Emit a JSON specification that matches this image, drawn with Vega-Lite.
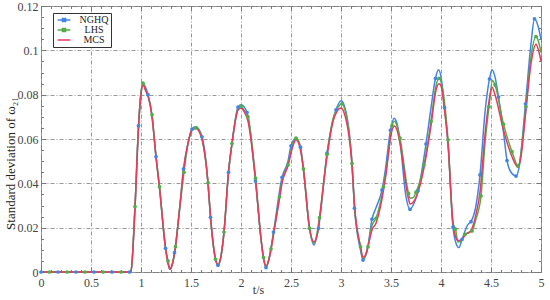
{
  "$schema": "https://vega.github.io/schema/vega-lite/v6.json",
  "width": 500,
  "height": 266,
  "autosize": "none",
  "padding": {"left": 41, "top": 6, "right": 9, "bottom": 28},
  "background": "white",
  "config": {
    "view": {"stroke": "#777", "strokeWidth": 1},
    "font": "Liberation Serif, Times New Roman, serif"
  },
  "datasets": {
    "d": [
      {"s":"NGHQ","t":0,"v":0,"m":1},{"s":"NGHQ","t":0.17,"v":0,"m":1},{"s":"NGHQ","t":0.35,"v":0,"m":1},{"s":"NGHQ","t":0.53,"v":0,"m":1},{"s":"NGHQ","t":0.71,"v":0,"m":1},{"s":"NGHQ","t":0.885,"v":0,"m":1},
      {"s":"NGHQ","t":0.9,"v":0.0005,"m":0},{"s":"NGHQ","t":0.94,"v":0.029,"m":0},{"s":"NGHQ","t":0.975,"v":0.066,"m":1},{"s":"NGHQ","t":1.0,"v":0.081,"m":0},{"s":"NGHQ","t":1.02,"v":0.0848,"m":0},{"s":"NGHQ","t":1.07,"v":0.080,"m":1},{"s":"NGHQ","t":1.11,"v":0.0705,"m":0},{"s":"NGHQ","t":1.15,"v":0.052,"m":1},{"s":"NGHQ","t":1.185,"v":0.038,"m":0},{"s":"NGHQ","t":1.245,"v":0.0107,"m":1},{"s":"NGHQ","t":1.27,"v":0.004,"m":0},{"s":"NGHQ","t":1.29,"v":0.0012,"m":0},{"s":"NGHQ","t":1.31,"v":0.003,"m":0},{"s":"NGHQ","t":1.335,"v":0.0087,"m":1},{"s":"NGHQ","t":1.385,"v":0.028,"m":0},{"s":"NGHQ","t":1.425,"v":0.0465,"m":1},{"s":"NGHQ","t":1.47,"v":0.058,"m":0},{"s":"NGHQ","t":1.51,"v":0.0645,"m":1},{"s":"NGHQ","t":1.55,"v":0.0655,"m":0},{"s":"NGHQ","t":1.61,"v":0.061,"m":1},{"s":"NGHQ","t":1.67,"v":0.040,"m":0},{"s":"NGHQ","t":1.695,"v":0.0247,"m":1},{"s":"NGHQ","t":1.745,"v":0.0057,"m":0},{"s":"NGHQ","t":1.77,"v":0.003,"m":1},{"s":"NGHQ","t":1.795,"v":0.006,"m":0},{"s":"NGHQ","t":1.83,"v":0.018,"m":0},{"s":"NGHQ","t":1.875,"v":0.045,"m":1},{"s":"NGHQ","t":1.91,"v":0.058,"m":0},{"s":"NGHQ","t":1.97,"v":0.0744,"m":1},{"s":"NGHQ","t":2.0,"v":0.0755,"m":0},{"s":"NGHQ","t":2.06,"v":0.072,"m":1},{"s":"NGHQ","t":2.145,"v":0.041,"m":1},{"s":"NGHQ","t":2.2,"v":0.015,"m":0},{"s":"NGHQ","t":2.225,"v":0.006,"m":0},{"s":"NGHQ","t":2.25,"v":0.002,"m":1},{"s":"NGHQ","t":2.275,"v":0.005,"m":0},{"s":"NGHQ","t":2.325,"v":0.018,"m":1},{"s":"NGHQ","t":2.41,"v":0.0427,"m":1},{"s":"NGHQ","t":2.47,"v":0.050,"m":0},{"s":"NGHQ","t":2.5,"v":0.0569,"m":1},{"s":"NGHQ","t":2.55,"v":0.0605,"m":0},{"s":"NGHQ","t":2.595,"v":0.0563,"m":1},{"s":"NGHQ","t":2.625,"v":0.046,"m":0},{"s":"NGHQ","t":2.685,"v":0.0197,"m":1},{"s":"NGHQ","t":2.73,"v":0.0122,"m":0},{"s":"NGHQ","t":2.775,"v":0.0197,"m":1},{"s":"NGHQ","t":2.86,"v":0.0536,"m":1},{"s":"NGHQ","t":2.95,"v":0.0731,"m":1},{"s":"NGHQ","t":3.0,"v":0.0773,"m":0},{"s":"NGHQ","t":3.03,"v":0.0755,"m":0},{"s":"NGHQ","t":3.11,"v":0.049,"m":0},{"s":"NGHQ","t":3.135,"v":0.0288,"m":1},{"s":"NGHQ","t":3.195,"v":0.010,"m":0},{"s":"NGHQ","t":3.22,"v":0.0054,"m":1},{"s":"NGHQ","t":3.25,"v":0.008,"m":0},{"s":"NGHQ","t":3.27,"v":0.012,"m":0},{"s":"NGHQ","t":3.31,"v":0.0238,"m":1},{"s":"NGHQ","t":3.35,"v":0.029,"m":0},{"s":"NGHQ","t":3.41,"v":0.037,"m":1},{"s":"NGHQ","t":3.44,"v":0.045,"m":0},{"s":"NGHQ","t":3.495,"v":0.064,"m":1},{"s":"NGHQ","t":3.53,"v":0.0694,"m":0},{"s":"NGHQ","t":3.56,"v":0.067,"m":0},{"s":"NGHQ","t":3.59,"v":0.059,"m":0},{"s":"NGHQ","t":3.65,"v":0.034,"m":0},{"s":"NGHQ","t":3.69,"v":0.0283,"m":1},{"s":"NGHQ","t":3.72,"v":0.030,"m":0},{"s":"NGHQ","t":3.77,"v":0.0366,"m":1},{"s":"NGHQ","t":3.85,"v":0.0578,"m":1},{"s":"NGHQ","t":3.9,"v":0.074,"m":0},{"s":"NGHQ","t":3.945,"v":0.0874,"m":1},{"s":"NGHQ","t":3.975,"v":0.0912,"m":0},{"s":"NGHQ","t":4.0,"v":0.088,"m":0},{"s":"NGHQ","t":4.035,"v":0.0742,"m":1},{"s":"NGHQ","t":4.07,"v":0.058,"m":0},{"s":"NGHQ","t":4.12,"v":0.0202,"m":1},{"s":"NGHQ","t":4.15,"v":0.013,"m":0},{"s":"NGHQ","t":4.18,"v":0.011,"m":0},{"s":"NGHQ","t":4.21,"v":0.0147,"m":1},{"s":"NGHQ","t":4.27,"v":0.0215,"m":0},{"s":"NGHQ","t":4.30,"v":0.0227,"m":1},{"s":"NGHQ","t":4.35,"v":0.030,"m":0},{"s":"NGHQ","t":4.39,"v":0.0438,"m":1},{"s":"NGHQ","t":4.44,"v":0.072,"m":0},{"s":"NGHQ","t":4.485,"v":0.0871,"m":1},{"s":"NGHQ","t":4.51,"v":0.0912,"m":0},{"s":"NGHQ","t":4.54,"v":0.088,"m":0},{"s":"NGHQ","t":4.575,"v":0.0789,"m":1},{"s":"NGHQ","t":4.625,"v":0.063,"m":0},{"s":"NGHQ","t":4.66,"v":0.0503,"m":1},{"s":"NGHQ","t":4.70,"v":0.045,"m":0},{"s":"NGHQ","t":4.75,"v":0.0433,"m":1},{"s":"NGHQ","t":4.78,"v":0.047,"m":0},{"s":"NGHQ","t":4.845,"v":0.0759,"m":1},{"s":"NGHQ","t":4.9,"v":0.103,"m":0},{"s":"NGHQ","t":4.935,"v":0.1142,"m":1},{"s":"NGHQ","t":4.97,"v":0.111,"m":0},{"s":"NGHQ","t":5.0,"v":0.105,"m":0},

      {"s":"LHS","t":0,"v":0,"m":0},{"s":"LHS","t":0.085,"v":0,"m":1},{"s":"LHS","t":0.26,"v":0,"m":1},{"s":"LHS","t":0.44,"v":0,"m":1},{"s":"LHS","t":0.62,"v":0,"m":1},{"s":"LHS","t":0.8,"v":0,"m":1},{"s":"LHS","t":0.885,"v":0,"m":0},
      {"s":"LHS","t":0.9,"v":0.0005,"m":0},{"s":"LHS","t":0.94,"v":0.0295,"m":1},{"s":"LHS","t":0.975,"v":0.065,"m":0},{"s":"LHS","t":1.0,"v":0.081,"m":0},{"s":"LHS","t":1.02,"v":0.0852,"m":1},{"s":"LHS","t":1.045,"v":0.082,"m":0},{"s":"LHS","t":1.07,"v":0.0795,"m":0},{"s":"LHS","t":1.11,"v":0.0709,"m":1},{"s":"LHS","t":1.15,"v":0.052,"m":0},{"s":"LHS","t":1.185,"v":0.0385,"m":1},{"s":"LHS","t":1.245,"v":0.011,"m":0},{"s":"LHS","t":1.27,"v":0.005,"m":1},{"s":"LHS","t":1.29,"v":0.0013,"m":0},{"s":"LHS","t":1.31,"v":0.003,"m":0},{"s":"LHS","t":1.345,"v":0.0114,"m":1},{"s":"LHS","t":1.385,"v":0.028,"m":0},{"s":"LHS","t":1.43,"v":0.045,"m":1},{"s":"LHS","t":1.47,"v":0.058,"m":0},{"s":"LHS","t":1.51,"v":0.064,"m":0},{"s":"LHS","t":1.55,"v":0.065,"m":1},{"s":"LHS","t":1.59,"v":0.063,"m":0},{"s":"LHS","t":1.61,"v":0.060,"m":0},{"s":"LHS","t":1.67,"v":0.0403,"m":1},{"s":"LHS","t":1.695,"v":0.025,"m":0},{"s":"LHS","t":1.745,"v":0.0057,"m":1},{"s":"LHS","t":1.77,"v":0.003,"m":0},{"s":"LHS","t":1.795,"v":0.006,"m":0},{"s":"LHS","t":1.83,"v":0.018,"m":1},{"s":"LHS","t":1.875,"v":0.045,"m":0},{"s":"LHS","t":1.91,"v":0.058,"m":1},{"s":"LHS","t":1.97,"v":0.0735,"m":0},{"s":"LHS","t":2.0,"v":0.0748,"m":1},{"s":"LHS","t":2.03,"v":0.073,"m":0},{"s":"LHS","t":2.07,"v":0.070,"m":1},{"s":"LHS","t":2.145,"v":0.0423,"m":1},{"s":"LHS","t":2.2,"v":0.015,"m":0},{"s":"LHS","t":2.225,"v":0.0065,"m":1},{"s":"LHS","t":2.25,"v":0.0025,"m":0},{"s":"LHS","t":2.275,"v":0.005,"m":0},{"s":"LHS","t":2.30,"v":0.0104,"m":1},{"s":"LHS","t":2.325,"v":0.017,"m":0},{"s":"LHS","t":2.385,"v":0.034,"m":1},{"s":"LHS","t":2.41,"v":0.041,"m":0},{"s":"LHS","t":2.47,"v":0.0483,"m":1},{"s":"LHS","t":2.52,"v":0.058,"m":0},{"s":"LHS","t":2.55,"v":0.0604,"m":1},{"s":"LHS","t":2.595,"v":0.056,"m":0},{"s":"LHS","t":2.625,"v":0.0465,"m":1},{"s":"LHS","t":2.685,"v":0.0197,"m":1},{"s":"LHS","t":2.73,"v":0.013,"m":0},{"s":"LHS","t":2.785,"v":0.0245,"m":1},{"s":"LHS","t":2.86,"v":0.053,"m":1},{"s":"LHS","t":2.92,"v":0.069,"m":0},{"s":"LHS","t":2.96,"v":0.0735,"m":0},{"s":"LHS","t":3.01,"v":0.0759,"m":1},{"s":"LHS","t":3.04,"v":0.073,"m":0},{"s":"LHS","t":3.11,"v":0.049,"m":1},{"s":"LHS","t":3.135,"v":0.030,"m":0},{"s":"LHS","t":3.195,"v":0.0114,"m":1},{"s":"LHS","t":3.22,"v":0.006,"m":0},{"s":"LHS","t":3.25,"v":0.008,"m":0},{"s":"LHS","t":3.27,"v":0.0114,"m":1},{"s":"LHS","t":3.31,"v":0.021,"m":0},{"s":"LHS","t":3.35,"v":0.0242,"m":1},{"s":"LHS","t":3.425,"v":0.0385,"m":1},{"s":"LHS","t":3.47,"v":0.052,"m":0},{"s":"LHS","t":3.51,"v":0.066,"m":1},{"s":"LHS","t":3.535,"v":0.068,"m":0},{"s":"LHS","t":3.56,"v":0.066,"m":0},{"s":"LHS","t":3.59,"v":0.0604,"m":1},{"s":"LHS","t":3.675,"v":0.0355,"m":1},{"s":"LHS","t":3.69,"v":0.0333,"m":0},{"s":"LHS","t":3.72,"v":0.0335,"m":0},{"s":"LHS","t":3.75,"v":0.036,"m":1},{"s":"LHS","t":3.83,"v":0.0483,"m":1},{"s":"LHS","t":3.9,"v":0.0679,"m":1},{"s":"LHS","t":3.95,"v":0.084,"m":0},{"s":"LHS","t":3.98,"v":0.0874,"m":1},{"s":"LHS","t":4.01,"v":0.084,"m":0},{"s":"LHS","t":4.07,"v":0.0596,"m":1},{"s":"LHS","t":4.12,"v":0.022,"m":0},{"s":"LHS","t":4.145,"v":0.0194,"m":1},{"s":"LHS","t":4.17,"v":0.0135,"m":0},{"s":"LHS","t":4.2,"v":0.014,"m":0},{"s":"LHS","t":4.24,"v":0.017,"m":1},{"s":"LHS","t":4.31,"v":0.0185,"m":1},{"s":"LHS","t":4.35,"v":0.024,"m":0},{"s":"LHS","t":4.40,"v":0.0343,"m":1},{"s":"LHS","t":4.44,"v":0.058,"m":0},{"s":"LHS","t":4.48,"v":0.0746,"m":1},{"s":"LHS","t":4.515,"v":0.0864,"m":0},{"s":"LHS","t":4.54,"v":0.0844,"m":1},{"s":"LHS","t":4.625,"v":0.0667,"m":1},{"s":"LHS","t":4.71,"v":0.0543,"m":1},{"s":"LHS","t":4.77,"v":0.0479,"m":1},{"s":"LHS","t":4.85,"v":0.0745,"m":1},{"s":"LHS","t":4.9,"v":0.097,"m":0},{"s":"LHS","t":4.95,"v":0.1062,"m":1},{"s":"LHS","t":4.975,"v":0.104,"m":0},{"s":"LHS","t":5.0,"v":0.099,"m":0},

      {"s":"MCS","t":0,"v":0,"m":0},{"s":"MCS","t":0.5,"v":0,"m":0},{"s":"MCS","t":0.88,"v":0,"m":0},{"s":"MCS","t":0.9,"v":0.0005,"m":0},{"s":"MCS","t":0.94,"v":0.029,"m":0},{"s":"MCS","t":0.975,"v":0.065,"m":0},{"s":"MCS","t":1.0,"v":0.080,"m":0},{"s":"MCS","t":1.02,"v":0.0845,"m":0},{"s":"MCS","t":1.045,"v":0.082,"m":0},{"s":"MCS","t":1.07,"v":0.0795,"m":0},{"s":"MCS","t":1.11,"v":0.070,"m":0},{"s":"MCS","t":1.15,"v":0.052,"m":0},{"s":"MCS","t":1.185,"v":0.038,"m":0},{"s":"MCS","t":1.245,"v":0.011,"m":0},{"s":"MCS","t":1.27,"v":0.004,"m":0},{"s":"MCS","t":1.29,"v":0.0012,"m":0},{"s":"MCS","t":1.31,"v":0.003,"m":0},{"s":"MCS","t":1.345,"v":0.0115,"m":0},{"s":"MCS","t":1.385,"v":0.028,"m":0},{"s":"MCS","t":1.425,"v":0.046,"m":0},{"s":"MCS","t":1.47,"v":0.058,"m":0},{"s":"MCS","t":1.51,"v":0.064,"m":0},{"s":"MCS","t":1.55,"v":0.0648,"m":0},{"s":"MCS","t":1.59,"v":0.0625,"m":0},{"s":"MCS","t":1.61,"v":0.060,"m":0},{"s":"MCS","t":1.67,"v":0.040,"m":0},{"s":"MCS","t":1.695,"v":0.025,"m":0},{"s":"MCS","t":1.745,"v":0.006,"m":0},{"s":"MCS","t":1.77,"v":0.003,"m":0},{"s":"MCS","t":1.795,"v":0.006,"m":0},{"s":"MCS","t":1.83,"v":0.018,"m":0},{"s":"MCS","t":1.875,"v":0.045,"m":0},{"s":"MCS","t":1.91,"v":0.058,"m":0},{"s":"MCS","t":1.97,"v":0.073,"m":0},{"s":"MCS","t":2.0,"v":0.074,"m":0},{"s":"MCS","t":2.03,"v":0.0725,"m":0},{"s":"MCS","t":2.07,"v":0.068,"m":0},{"s":"MCS","t":2.145,"v":0.042,"m":0},{"s":"MCS","t":2.2,"v":0.015,"m":0},{"s":"MCS","t":2.225,"v":0.0065,"m":0},{"s":"MCS","t":2.25,"v":0.0025,"m":0},{"s":"MCS","t":2.275,"v":0.005,"m":0},{"s":"MCS","t":2.30,"v":0.010,"m":0},{"s":"MCS","t":2.325,"v":0.017,"m":0},{"s":"MCS","t":2.385,"v":0.033,"m":0},{"s":"MCS","t":2.41,"v":0.040,"m":0},{"s":"MCS","t":2.47,"v":0.048,"m":0},{"s":"MCS","t":2.52,"v":0.057,"m":0},{"s":"MCS","t":2.55,"v":0.0595,"m":0},{"s":"MCS","t":2.595,"v":0.055,"m":0},{"s":"MCS","t":2.625,"v":0.046,"m":0},{"s":"MCS","t":2.685,"v":0.020,"m":0},{"s":"MCS","t":2.73,"v":0.0135,"m":0},{"s":"MCS","t":2.775,"v":0.020,"m":0},{"s":"MCS","t":2.785,"v":0.024,"m":0},{"s":"MCS","t":2.86,"v":0.052,"m":0},{"s":"MCS","t":2.92,"v":0.068,"m":0},{"s":"MCS","t":2.96,"v":0.0725,"m":0},{"s":"MCS","t":3.0,"v":0.074,"m":0},{"s":"MCS","t":3.03,"v":0.072,"m":0},{"s":"MCS","t":3.11,"v":0.048,"m":0},{"s":"MCS","t":3.135,"v":0.030,"m":0},{"s":"MCS","t":3.195,"v":0.0115,"m":0},{"s":"MCS","t":3.22,"v":0.0066,"m":0},{"s":"MCS","t":3.25,"v":0.008,"m":0},{"s":"MCS","t":3.27,"v":0.0115,"m":0},{"s":"MCS","t":3.31,"v":0.019,"m":0},{"s":"MCS","t":3.35,"v":0.022,"m":0},{"s":"MCS","t":3.41,"v":0.033,"m":0},{"s":"MCS","t":3.45,"v":0.044,"m":0},{"s":"MCS","t":3.5,"v":0.062,"m":0},{"s":"MCS","t":3.535,"v":0.0659,"m":0},{"s":"MCS","t":3.56,"v":0.064,"m":0},{"s":"MCS","t":3.59,"v":0.058,"m":0},{"s":"MCS","t":3.675,"v":0.033,"m":0},{"s":"MCS","t":3.69,"v":0.0307,"m":0},{"s":"MCS","t":3.71,"v":0.031,"m":0},{"s":"MCS","t":3.77,"v":0.036,"m":0},{"s":"MCS","t":3.83,"v":0.047,"m":0},{"s":"MCS","t":3.9,"v":0.066,"m":0},{"s":"MCS","t":3.95,"v":0.082,"m":0},{"s":"MCS","t":3.98,"v":0.0849,"m":0},{"s":"MCS","t":4.0,"v":0.084,"m":0},{"s":"MCS","t":4.035,"v":0.073,"m":0},{"s":"MCS","t":4.07,"v":0.058,"m":0},{"s":"MCS","t":4.12,"v":0.022,"m":0},{"s":"MCS","t":4.145,"v":0.016,"m":0},{"s":"MCS","t":4.17,"v":0.0142,"m":0},{"s":"MCS","t":4.2,"v":0.0145,"m":0},{"s":"MCS","t":4.25,"v":0.017,"m":0},{"s":"MCS","t":4.30,"v":0.0188,"m":0},{"s":"MCS","t":4.35,"v":0.026,"m":0},{"s":"MCS","t":4.39,"v":0.036,"m":0},{"s":"MCS","t":4.44,"v":0.062,"m":0},{"s":"MCS","t":4.48,"v":0.077,"m":0},{"s":"MCS","t":4.51,"v":0.0834,"m":0},{"s":"MCS","t":4.54,"v":0.080,"m":0},{"s":"MCS","t":4.625,"v":0.064,"m":0},{"s":"MCS","t":4.71,"v":0.052,"m":0},{"s":"MCS","t":4.77,"v":0.0473,"m":0},{"s":"MCS","t":4.8,"v":0.052,"m":0},{"s":"MCS","t":4.845,"v":0.071,"m":0},{"s":"MCS","t":4.9,"v":0.094,"m":0},{"s":"MCS","t":4.95,"v":0.1028,"m":0},{"s":"MCS","t":4.975,"v":0.100,"m":0},{"s":"MCS","t":5.0,"v":0.095,"m":0}
    ]
  },
  "data": {"name": "d"},
  "layer": [
    {
      "mark": {"type": "line", "interpolate": "monotone", "strokeWidth": 1.5},
      "encoding": {
        "x": {
          "field": "t", "type": "quantitative",
          "scale": {"domain": [0, 5], "nice": false},
          "axis": {
            "orient": "bottom",
            "values": [0,0.1,0.2,0.3,0.4,0.5,0.6,0.7,0.8,0.9,1,1.1,1.2,1.3,1.4,1.5,1.6,1.7,1.8,1.9,2,2.1,2.2,2.3,2.4,2.5,2.6,2.7,2.8,2.9,3,3.1,3.2,3.3,3.4,3.5,3.6,3.7,3.8,3.9,4,4.1,4.2,4.3,4.4,4.5,4.6,4.7,4.8,4.9,5],
            "labelExpr": "round(datum.value*10) % 5 === 0 ? format(datum.value, '~g') : ''",
            "labelOverlap": false,
            "labelBound": false,
            "labelFlush": false,
            "labelFont": "Liberation Serif, Times New Roman, serif",
            "labelFontSize": 12,
            "labelColor": "#444",
            "labelPadding": 10,
            "domain": false,
            "tickColor": "#777",
            "tickSize": {"condition": {"test": "round(datum.value*10) % 5 === 0", "value": -5}, "value": -2.5},
            "grid": true,
            "gridDash": [4, 2, 1, 2],
            "gridWidth": 1,
            "gridOpacity": 1,
            "gridColor": {"condition": {"test": "round(datum.value*10) % 5 === 0", "value": "#999999"}, "value": "transparent"},
            "title": "t/s",
            "titleFont": "Liberation Serif, Times New Roman, serif",
            "titleFontSize": 12,
            "titleFontWeight": "normal",
            "titleColor": "#333",
            "titleX": 217,
            "titleY": 12,
            "titleBaseline": "top"
          }
        },
        "y": {
          "field": "v", "type": "quantitative",
          "scale": {"domain": [0, 0.12], "nice": false},
          "axis": {
            "orient": "left",
            "values": [0,0.005,0.01,0.015,0.02,0.025,0.03,0.035,0.04,0.045,0.05,0.055,0.06,0.065,0.07,0.075,0.08,0.085,0.09,0.095,0.1,0.105,0.11,0.115,0.12],
            "labelExpr": "round(datum.value*1000) % 20 === 0 ? format(datum.value, '~g') : ''",
            "labelOverlap": false,
            "labelBound": false,
            "labelFlush": false,
            "labelFont": "Liberation Serif, Times New Roman, serif",
            "labelFontSize": 12,
            "labelColor": "#444",
            "labelPadding": 8,
            "domain": false,
            "tickColor": "#777",
            "tickSize": {"condition": {"test": "round(datum.value*1000) % 20 === 0", "value": -5}, "value": -2.5},
            "grid": true,
            "gridDash": [4, 2, 1, 2],
            "gridWidth": 1,
            "gridOpacity": 1,
            "gridColor": {"condition": {"test": "round(datum.value*1000) % 20 === 0", "value": "#999999"}, "value": "transparent"},
            "title": "Standard deviation  of ω₂₁",
            "titleFont": "Liberation Serif, DejaVu Serif, serif",
            "titleFontSize": 13,
            "titleFontWeight": "normal",
            "titleColor": "#222",
            "titleX": -31,
            "titleY": 157,
            "titleAngle": -90,
            "titleAlign": "center",
            "titleBaseline": "middle"
          }
        },
        "color": {
          "field": "s", "type": "nominal",
          "scale": {"domain": ["NGHQ", "LHS", "MCS"], "range": ["#4285e4", "#52ad48", "#ea3a5c"]},
          "legend": {
            "title": null,
            "orient": "none",
            "legendX": 12,
            "legendY": 7,
            "direction": "vertical",
            "strokeColor": "#333",
            "fillColor": "white",
            "padding": 2,
            "rowPadding": 0,
            "symbolType": "stroke",
            "symbolSize": 64,
            "symbolStrokeWidth": 1.5,
            "symbolOffset": 4,
            "labelFont": "Liberation Serif, Times New Roman, serif",
            "labelFontSize": 10,
            "labelColor": "#222",
            "labelAlign": "center",
            "labelOffset": 25,
            "encode": {
              "symbols": {
                "update": {
                  "shape": {"signal": "datum.value === 'MCS' ? 'M-1.6,0H1.6' : 'M-1.6,0H1.6M-0.4,-0.4H0.4V0.4H-0.4Z'"},
                  "fill": {"signal": "datum.value === 'MCS' ? 'transparent' : scale('color', datum.value)"}
                }
              }
            }
          }
        },
        "order": {"field": "t", "type": "quantitative"}
      }
    },
    {
      "transform": [{"filter": "datum.m === 1"}],
      "mark": {"type": "point", "filled": true, "size": 14, "opacity": 1},
      "encoding": {
        "x": {
          "field": "t", "type": "quantitative",
          "axis": {
            "orient": "top",
            "values": [0,0.1,0.2,0.3,0.4,0.5,0.6,0.7,0.8,0.9,1,1.1,1.2,1.3,1.4,1.5,1.6,1.7,1.8,1.9,2,2.1,2.2,2.3,2.4,2.5,2.6,2.7,2.8,2.9,3,3.1,3.2,3.3,3.4,3.5,3.6,3.7,3.8,3.9,4,4.1,4.2,4.3,4.4,4.5,4.6,4.7,4.8,4.9,5],
            "labels": false,
            "domain": false,
            "grid": false,
            "title": null,
            "tickColor": "#777",
            "tickSize": {"condition": {"test": "round(datum.value*10) % 5 === 0", "value": -5}, "value": -2.5}
          }
        },
        "y": {
          "field": "v", "type": "quantitative",
          "axis": {
            "orient": "right",
            "values": [0,0.005,0.01,0.015,0.02,0.025,0.03,0.035,0.04,0.045,0.05,0.055,0.06,0.065,0.07,0.075,0.08,0.085,0.09,0.095,0.1,0.105,0.11,0.115,0.12],
            "labels": false,
            "domain": false,
            "grid": false,
            "title": null,
            "tickColor": "#777",
            "tickSize": {"condition": {"test": "round(datum.value*1000) % 20 === 0", "value": -5}, "value": -2.5}
          }
        },
        "color": {"field": "s", "type": "nominal", "legend": null}
      }
    }
  ],
  "resolve": {"axis": {"x": "independent", "y": "independent"}}
}
